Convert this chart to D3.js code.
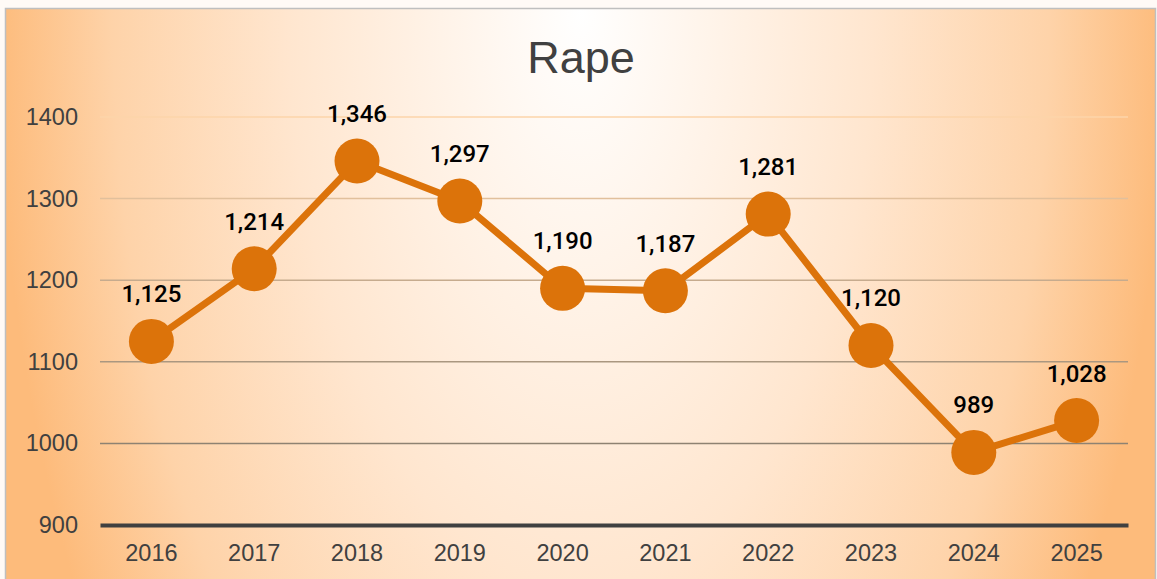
<!DOCTYPE html>
<html>
<head>
<meta charset="utf-8">
<script src="https://cdn.jsdelivr.net/npm/d3@7"></script>
<style>
html,body{margin:0;padding:0;background:#FFFAF6;}
svg{display:block;}
</style>
</head>
<body>
<script>
const title = "Rape";
const years = ["2016","2017","2018","2019","2020","2021","2022","2023","2024","2025"];
const values = [1125, 1214, 1346, 1297, 1190, 1187, 1281, 1120, 989, 1028];
const yTicks = [900, 1000, 1100, 1200, 1300, 1400];

const W = 1157, H = 579;
const svg = d3.select("body").append("svg").attr("width", W).attr("height", H);
const defs = svg.append("defs");
const rg = defs.append("radialGradient").attr("id","bg")
  .attr("gradientUnits","userSpaceOnUse")
  .attr("cx",0).attr("cy",0).attr("r",1)
  .attr("gradientTransform","translate(581,10) scale(585,1150)");
rg.append("stop").attr("offset","0").attr("stop-color","#FFFFFF");
rg.append("stop").attr("offset","0.5").attr("stop-color","#FFE6CF");
rg.append("stop").attr("offset","0.8").attr("stop-color","#FED3A9");
rg.append("stop").attr("offset","1").attr("stop-color","#FDBB7B");

svg.append("rect").attr("x",5.5).attr("y",8.5).attr("width",1150).attr("height",H)
  .attr("fill","url(#bg)").attr("stroke","#BFBFBF").attr("stroke-width",1.5);

const plotL = 100, plotR = 1128, plotT = 117, plotB = 525;
const x = d3.scaleBand().domain(years).range([plotL, plotR]);
const y = d3.scaleLinear().domain([900, 1400]).range([plotB, plotT]);

const gridColor = d3.scaleLinear().domain([1000, 1400]).range(["#8E8272", "#FDD4AA"]).interpolate(d3.interpolateRgb);

svg.append("g").selectAll("line").data(yTicks.filter(t => t > 900)).join("line")
  .attr("x1", plotL).attr("x2", plotR)
  .attr("y1", d => y(d)).attr("y2", d => y(d))
  .attr("stroke", d => gridColor(d)).attr("stroke-width", 1.5);

svg.append("text").attr("x", 581).attr("y", 73).attr("text-anchor","middle")
  .attr("font-family","'Liberation Sans', Arial, sans-serif").attr("font-size", 45)
  .attr("fill","#404040").text(title);

const tickFont = "'Liberation Sans', Arial, sans-serif";
// y axis labels
const yAxis = d3.axisLeft(y).tickValues(yTicks).tickSize(0).tickPadding(22).tickFormat(d3.format("d"));
const gy = svg.append("g").attr("transform",`translate(${plotL},0)`).call(yAxis);
gy.select(".domain").remove();
gy.selectAll("text").attr("font-family", tickFont)
  .attr("font-size", 23.5).attr("fill","#404040");

// x axis
const xAxis = d3.axisBottom(x).tickSize(0).tickPadding(19);
const gx = svg.append("g").attr("transform",`translate(0,${plotB})`).call(xAxis);
gx.select(".domain").attr("stroke","#404040").attr("stroke-width",4);
gx.selectAll("text").attr("font-family", tickFont)
  .attr("font-size", 23.5).attr("fill","#404040");

const cx = d => x(d) + x.bandwidth()/2;
const line = d3.line().x((d,i) => cx(years[i])).y(d => y(d));
svg.append("path").datum(values).attr("d", line)
  .attr("fill","none").attr("stroke","#DC730A").attr("stroke-width",7).attr("stroke-linejoin","round");

svg.append("g").selectAll("circle").data(values).join("circle")
  .attr("cx",(d,i) => cx(years[i])).attr("cy", d => y(d)).attr("r", 22.5)
  .attr("fill","#DC730A");

svg.append("g").selectAll("text").data(values).join("text")
  .attr("x",(d,i) => cx(years[i])).attr("y", d => y(d) - 39)
  .attr("text-anchor","middle")
  .attr("font-family","Roboto, 'Liberation Sans', sans-serif").attr("font-size", 24).attr("font-weight", 500)
  .attr("fill","#000").text(d => d3.format(",")(d));
</script>
</body>
</html>
